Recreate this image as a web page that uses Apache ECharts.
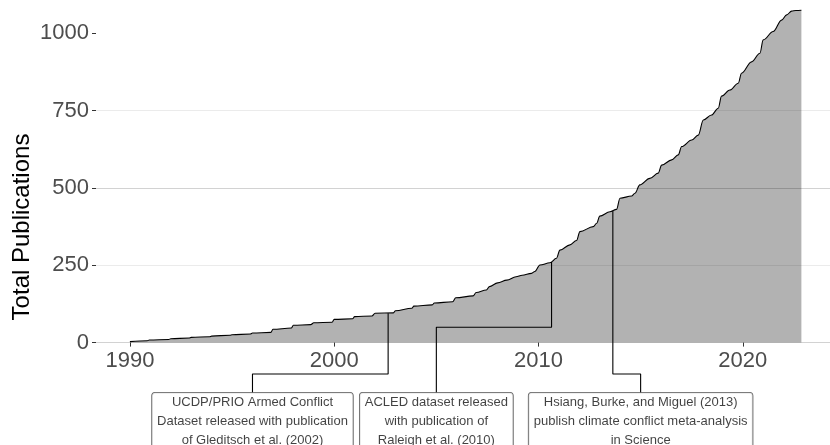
<!DOCTYPE html>
<html>
<head>
<meta charset="utf-8">
<script src="https://cdn.jsdelivr.net/npm/echarts@6/dist/echarts.min.js"></script>
<style>
html,body{margin:0;padding:0;background:#fff;}
#chart{width:830px;height:445px;}
</style>
</head>
<body>
<div id="chart"></div>
<script>
// Cumulative publications
var years = [1990.00,1990.85,1990.95,1991.90,1992.00,1992.90,1993.00,1993.90,1994.00,1994.90,1995.00,1995.90,1996.00,1996.90,1997.00,1997.90,1998.00,1998.85,1999.00,1999.90,2000.00,2000.90,2001.00,2001.85,2002.00,2002.90,2003.00,2003.80,2003.90,2004.80,2004.90,2005.80,2005.95,2006.80,2006.95,2007.45,2007.60,2008.00,2008.45,2008.90,2009.20,2009.66,2009.82,2010.07,2010.56,2010.88,2011.05,2011.54,2011.86,2012.03,2012.68,2012.85,2013.00,2013.50,2013.82,2013.99,2014.56,2014.72,2014.96,2015.45,2015.86,2016.03,2016.52,2016.84,2017.01,2017.50,2017.82,2018.07,2018.47,2018.80,2018.96,2019.37,2019.78,2019.94,2020.43,2020.84,2021.00,2021.49,2021.90,2022.15,2022.39,2022.60,2022.87];
var totals = [3,6,8.5,10,12.6,15,17,19,21,24,25.5,28,31,33,43,47,56,58,64,66,75,77,84,86,95,96,103,111,118,122,128,132,145,151,162,170,181,193,202,213,218,224,230,251,258,273,299,316,330,359,375,386,409,423,431,467,474,483,510,531,548,574,591,607,634,655,671,720,736,758,797,817,839,871,908,936,979,1006,1043,1060,1072,1074,1075];

var xTickLabels = [1990, 2000, 2010, 2020];
var yTickLabels = [0, 250, 500, 750, 1000];

// Annotations: event point on curve, elbow level, label box position
var annoTexts = [
  "UCDP/PRIO Armed Conflict\nDataset released with publication\nof Gleditsch et al. (2002)",
  "ACLED dataset released\nwith publication of\nRaleigh et al. (2010)",
  "Hsiang, Burke, and Miguel (2013)\npublish climate conflict meta-analysis\nin Science"
];
var annoEventX = [2002.64, 2010.64, 2013.64];
var annoEventY = [95, 261, 426];
var annoElbowY = [-101.6, 49.5, -101.6];
var annoBoxX = [1996, 2005, 2015];
var annoBoxY = [-162, -162, -162];

var curve = years.map(function (y, i) { return [y, totals[i]]; });

var series = [{
  type: 'line',
  data: curve,
  showSymbol: false,
  smooth: 0.35,
  smoothMonotone: 'x',
  lineStyle: { color: '#000', width: 1.1 },
  areaStyle: { color: 'rgba(0,0,0,0.3)', opacity: 1 },
  silent: true,
  z: 2
}];

annoTexts.forEach(function (t, i) {
  series.push({
    type: 'line',
    clip: false,
    showSymbol: false,
    silent: true,
    z: 3,
    lineStyle: { color: '#000', width: 1.1 },
    data: [
      [annoEventX[i], annoEventY[i]],
      [annoEventX[i], annoElbowY[i]],
      [annoBoxX[i], annoElbowY[i]],
      [annoBoxX[i], annoBoxY[i]]
    ]
  });
});

series.push({
  type: 'scatter',
  clip: false,
  silent: true,
  symbolSize: 0,
  z: 4,
  data: annoTexts.map(function (t, i) { return { value: [annoBoxX[i], annoBoxY[i]], name: t }; }),
  label: {
    show: true,
    position: 'bottom',
    distance: 0,
    formatter: function (p) { return p.name; },
    fontFamily: 'Liberation Sans, Arial, sans-serif',
    fontSize: 13,
    lineHeight: 19,
    color: '#111',
    align: 'center',
    backgroundColor: '#fff',
    borderColor: '#333',
    borderWidth: 0.8,
    borderRadius: 3,
    padding: [0, 5, 3, 5]
  }
});

var chart = echarts.init(document.getElementById('chart'), null, { renderer: 'canvas' });
chart.setOption({
  animation: false,
  backgroundColor: '#fff',
  grid: { left: 96, right: 0, top: 0, bottom: 102.4, containLabel: false },
  xAxis: {
    type: 'value',
    min: 1988.34,
    max: 2024.27,
    axisLine: { show: false },
    splitLine: { show: false },
    axisTick: { show: true, customValues: xTickLabels, length: 4, lineStyle: { color: '#333', width: 1 } },
    axisLabel: {
      customValues: xTickLabels,
      formatter: function (v) { return String(v); },
      fontFamily: 'Liberation Sans, Arial, sans-serif',
      fontSize: 22,
      color: '#4d4d4d',
      margin: 7
    }
  },
  yAxis: {
    type: 'value',
    min: 0,
    max: 1108,
    interval: 125,
    axisLine: { show: false },
    axisTick: { show: true, customValues: yTickLabels, length: 4, lineStyle: { color: '#333', width: 1 } },
    axisLabel: {
      customValues: yTickLabels,
      formatter: function (v) { return String(v); },
      fontFamily: 'Liberation Sans, Arial, sans-serif',
      fontSize: 22,
      color: '#4d4d4d',
      margin: 7
    },
    splitLine: { show: true, showMaxLine: false, lineStyle: { color: ['#d2d2d2', '#ebebeb'], width: 1 } }
  },
  graphic: [{
    type: 'text',
    x: 22,
    y: 227,
    rotation: Math.PI / 2,
    style: {
      text: 'Total Publications',
      fontFamily: 'Liberation Sans, Arial, sans-serif',
      fontSize: 24,
      fill: '#000',
      align: 'center',
      verticalAlign: 'middle'
    }
  }],
  series: series
});
</script>
</body>
</html>
